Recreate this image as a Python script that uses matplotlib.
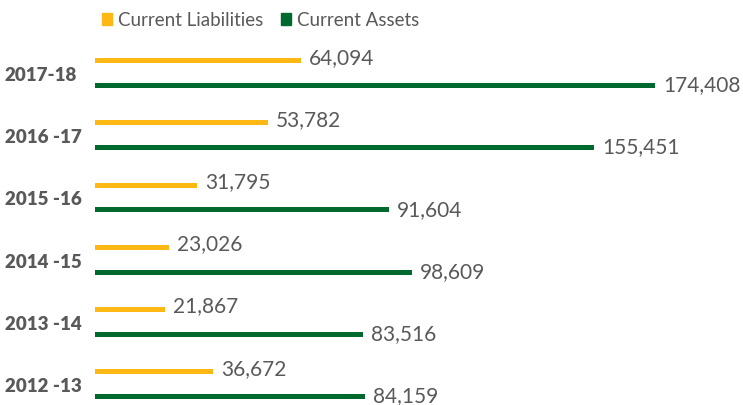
import matplotlib
matplotlib.use('Agg')
import matplotlib.pyplot as plt
from matplotlib.patches import Patch

years = ['2012 -13', '2013 -14', '2014 -15', '2015 -16', '2016 -17', '2017-18']
liabilities = [36672, 21867, 23026, 31795, 53782, 64094]
assets = [84159, 83516, 98609, 91604, 155451, 174408]

yellow = '#FDB813'
green = '#006A2E'
grey = '#595959'

plt.rcParams['font.family'] = ['Lato', 'DejaVu Sans']

fig = plt.figure(figsize=(7.43, 4.06), dpi=100)
ax = fig.add_axes([95 / 743, 0, 648 / 743, 366 / 406])

off = 0.2
h = 0.08
pos = list(range(len(years)))
ax.barh([p + off for p in pos], liabilities, height=h, color=yellow)
ax.barh([p - off for p in pos], assets, height=h, color=green)

for p, v in zip(pos, liabilities):
    ax.text(v + 2500, p + off + 0.06, f'{v:,}', va='center', ha='left',
            fontsize=15, color=grey)
for p, v in zip(pos, assets):
    ax.text(v + 2500, p - off + 0.02, f'{v:,}', va='center', ha='left',
            fontsize=15, color=grey)

ax.set_xlim(0, 201800)
ax.set_ylim(-0.34, 5.55)
ax.set_yticks(pos)
ax.set_yticklabels(years, fontsize=13.5, fontweight='heavy', color=grey, ha='left')
ax.tick_params(axis='y', length=0, pad=65)
ax.set_xticks([])
for s in ax.spines.values():
    s.set_visible(False)

handles = [Patch(color=yellow, label='Current Liabilities'),
           Patch(color=green, label='Current Assets')]
leg = fig.legend(handles=handles, loc='center left', bbox_to_anchor=(94 / 743, 1 - 21 / 406),
                 ncol=2, frameon=False, fontsize=13.5, handlelength=0.55, handleheight=0.55,
                 handletextpad=0.35, columnspacing=0.9, borderaxespad=0)
for t in leg.get_texts():
    t.set_color(grey)

fig.savefig('out.png', dpi=100)
